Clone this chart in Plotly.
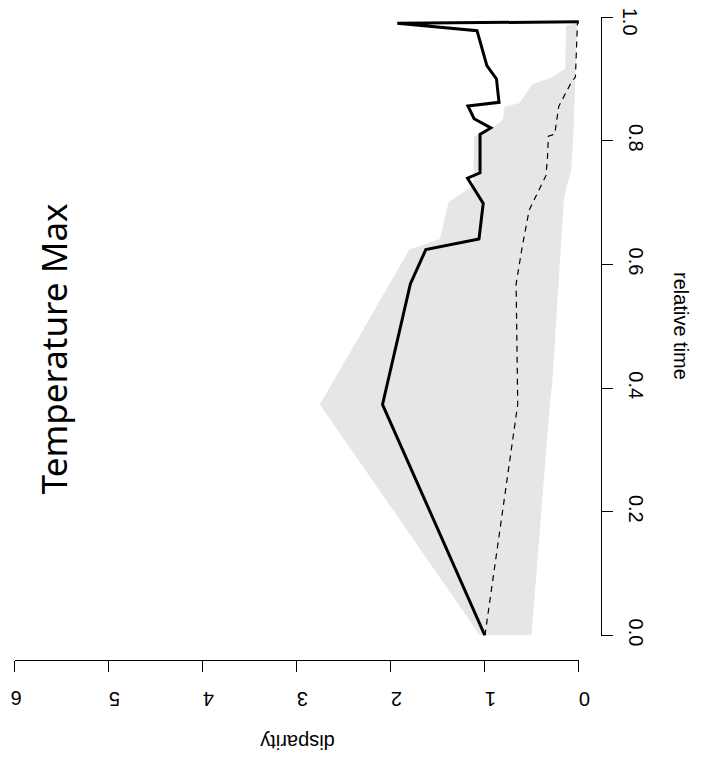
import plotly.graph_objects as go

# ---- data ----
obs_time = [0.0, 0.3736, 0.5685, 0.6243, 0.6414, 0.6988, 0.7396, 0.7482, 0.8103,
            0.8209, 0.8358, 0.8565, 0.8623, 0.9001, 0.9216, 0.9782, 0.9901, 0.9925]
obs_disp = [1.0, 2.089, 1.793, 1.628, 1.063, 1.018, 1.185, 1.052, 1.052,
            0.937, 1.115, 1.181, 0.850, 0.877, 0.979, 1.084, 1.932, 0.0]

med_time = [0.0, 0.3736, 0.5685, 0.627, 0.688, 0.7436, 0.771, 0.8076, 0.8108,
            0.8554, 0.8952, 0.9032, 0.9893, 0.9925]
med_disp = [1.0, 0.651, 0.668, 0.605, 0.529, 0.351, 0.335, 0.325, 0.257,
            0.215, 0.079, 0.037, 0.016, 0.0]

ci_hi_time = [0.0, 0.3736, 0.6243, 0.6414, 0.6933, 0.7013, 0.7279, 0.8076, 0.8196,
              0.8342, 0.8554, 0.8607, 0.8921, 0.9005, 0.9165, 0.9857, 0.9910]
ci_hi_disp = [1.052, 2.756, 1.803, 1.479, 1.398, 1.384, 1.123, 1.115, 0.930,
              0.808, 0.791, 0.634, 0.494, 0.319, 0.145, 0.138, 0.037]

ci_lo_time = [0.0, 0.3736, 0.4092, 0.6216, 0.7013, 0.7279, 0.7491, 0.8108, 0.8475,
              0.9085, 0.9901]
ci_lo_disp = [0.505, 0.309, 0.283, 0.197, 0.162, 0.128, 0.084, 0.058, 0.047,
              0.037, 0.016]

time_ticks = [0.0, 0.2, 0.4, 0.6, 0.8, 1.0]
time_labels = ["0.0", "0.2", "0.4", "0.6", "0.8", "1.0"]
disp_ticks = [0, 1, 2, 3, 4, 5, 6]
disp_labels = ["0", "1", "2", "3", "4", "5", "6"]

title_text = "Temperature Max"
xlab = "disparity"
ylab = "relative time"

# ---- geometry helpers ----
W, H = 702, 762
def fx(px):
    return px / W
def fy(py):
    return (H - py) / H

AX_FONT = dict(family="Liberation Sans, Arial, sans-serif", size=20, color="black")
TICK_STYLE = dict(ticks="outside", ticklen=11, tickwidth=1, tickcolor="black")

fig = go.Figure()

# polygon: upper CI forward, lower CI backward
poly_x = ci_hi_disp + ci_lo_disp[::-1]
poly_y = ci_hi_time + ci_lo_time[::-1]
fig.add_trace(go.Scatter(x=poly_x, y=poly_y, fill="toself", mode="lines",
                         line=dict(width=0, color="rgba(0,0,0,0)"),
                         fillcolor="#E6E6E6", hoverinfo="skip", showlegend=False))

fig.add_trace(go.Scatter(x=med_disp, y=med_time, mode="lines",
                         line=dict(color="black", width=1.2, dash="6px,5px"),
                         showlegend=False))

fig.add_trace(go.Scatter(x=obs_disp, y=obs_time, mode="lines",
                         line=dict(color="black", width=3),
                         showlegend=False))

# labels at the very edges of the page (1.0 and 6) are drawn just inside the
# page; their tick marks come from the full tick lists (minor ticks)
fig.update_layout(
    width=W, height=H,
    margin=dict(l=0, r=0, t=0, b=0),
    paper_bgcolor="white", plot_bgcolor="white",
    showlegend=False,
    xaxis=dict(domain=[fx(7), fx(580)], range=[6, 0], autorange=False,
               anchor="free", position=fy(661.5),
               showgrid=False, zeroline=False,
               showline=True, linecolor="black", linewidth=1,
               tickvals=disp_ticks[:-1], ticktext=disp_labels[:-1], tickangle=180,
               tickfont=AX_FONT, ticklabelstandoff=16,
               minor=dict(tickvals=disp_ticks, showgrid=False, **TICK_STYLE),
               **TICK_STYLE),
    yaxis=dict(domain=[fy(636.7), fy(9.3)], range=[0, 1], autorange=False,
               anchor="free", position=fx(602.5), side="right",
               showgrid=False, zeroline=False,
               showline=True, linecolor="black", linewidth=1,
               tickvals=time_ticks[:-1], ticktext=time_labels[:-1], tickangle=90,
               tickfont=AX_FONT, ticklabelstandoff=8,
               minor=dict(tickvals=time_ticks, showgrid=False, **TICK_STYLE),
               **TICK_STYLE),
    annotations=[
        dict(text=title_text, x=fx(46), y=fy(346), xref="paper", yref="paper",
             showarrow=False, textangle=-90, xanchor="center", yanchor="middle",
             font=dict(family="Noto Sans, sans-serif", size=35, color="black")),
        dict(text=ylab, x=fx(683), y=fy(323), xref="paper", yref="paper",
             showarrow=False, textangle=90, xanchor="center", yanchor="middle",
             font=AX_FONT),
        dict(text=xlab, x=fx(294), y=fy(745), xref="paper", yref="paper",
             showarrow=False, textangle=180, xanchor="center", yanchor="middle",
             font=AX_FONT),
        dict(text=time_labels[-1], x=fx(632), y=fy(14), xref="paper", yref="paper",
             showarrow=False, textangle=90, xanchor="center", yanchor="middle",
             font=AX_FONT),
        dict(text=disp_labels[-1], x=fx(8), y=fy(700), xref="paper", yref="paper",
             showarrow=False, textangle=180, xanchor="center", yanchor="middle",
             font=AX_FONT),
    ],
)

fig.write_html("out.html")
